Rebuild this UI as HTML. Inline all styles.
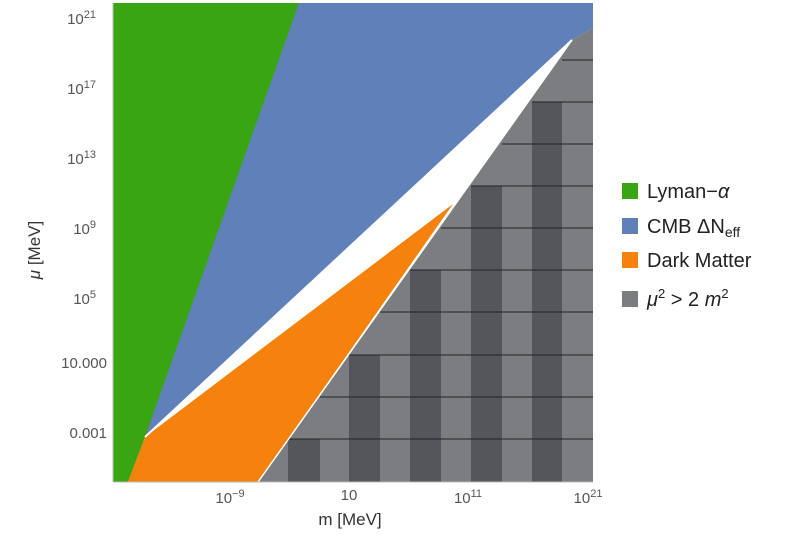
<!DOCTYPE html>
<html><head><meta charset="utf-8"><style>
body{margin:0;background:#fff;width:800px;height:530px;overflow:hidden}
svg text{font-family:"Liberation Sans",sans-serif;fill:#555}
</style></head><body>
<svg width="800" height="530" viewBox="0 0 800 530" xmlns="http://www.w3.org/2000/svg">
<defs><clipPath id="g"><polygon points="258,482 572,40 593,28 593,482"/></clipPath></defs>
<rect x="113" y="3" width="480" height="479" fill="#fff"/>
<polygon points="299,3 593,3 593,28 572,40 145,437 128,482 113,482 113,3" fill="#6080ba"/>
<polygon points="113,3 299,3 145,437 128,482 113,482" fill="#3aa512"/>
<polygon points="145,437 572,40 258,482" fill="#fff"/>
<g clip-path="url(#g)">
<rect x="257" y="3" width="336" height="479" fill="#7c7d81"/>
<g fill="#55565b">
<rect x="288" y="439" width="32" height="43"/>
<rect x="349" y="355" width="31" height="127"/>
<rect x="410" y="270" width="31" height="212"/>
<rect x="471" y="186" width="31" height="296"/>
<rect x="532" y="102" width="30" height="380"/>
</g>
<g stroke="#222" stroke-width="1" fill="none">
<path d="M288,439H593M320,397H593M349,355H593M380,312H593M410,270H593M441,228H593M471,186H593M502,144H593M532,102H593M562,60H593"/>
</g>
</g>
<polygon points="128,482 145,437 453,204 258,482" fill="#f5820d"/>
<line x1="145" y1="437" x2="572" y2="40" stroke="#fff" stroke-width="2"/>
<line x1="572" y1="40" x2="258" y2="482" stroke="#fff" stroke-width="1.5"/>
<line x1="113" y1="482" x2="593" y2="482" stroke="#bbb" stroke-width="1"/>
<line x1="113" y1="3" x2="113" y2="482" stroke="#bbb" stroke-width="1"/>
<g font-size="15" text-anchor="end">
<text x="96" y="24">10<tspan dy="-6" font-size="11">21</tspan></text>
<text x="96" y="94">10<tspan dy="-6" font-size="11">17</tspan></text>
<text x="96" y="164">10<tspan dy="-6" font-size="11">13</tspan></text>
<text x="96" y="234">10<tspan dy="-6" font-size="11">9</tspan></text>
<text x="96" y="304">10<tspan dy="-6" font-size="11">5</tspan></text>
<text x="107" y="368">10.000</text>
<text x="107" y="438">0.001</text>
</g>
<g font-size="15" text-anchor="middle">
<text x="230" y="503">10<tspan dy="-6" font-size="11">−9</tspan></text>
<text x="349" y="500">10</text>
<text x="468" y="503">10<tspan dy="-6" font-size="11">11</tspan></text>
<text x="588" y="503">10<tspan dy="-6" font-size="11">21</tspan></text>
</g>
<text x="350" y="525" font-size="17" text-anchor="middle" style="fill:#333">m [MeV]</text>
<text transform="translate(40,250) rotate(-90)" font-size="17" text-anchor="middle" style="fill:#333"><tspan font-style="italic">μ</tspan> [MeV]</text>
<rect x="622" y="183" width="16" height="16" fill="#3aa512"/>
<rect x="622" y="218" width="16" height="16" fill="#6080ba"/>
<rect x="622" y="252" width="16" height="16" fill="#f5820d"/>
<rect x="622" y="291" width="16" height="16" fill="#7c7d81"/>
<g font-size="20" style="fill:#222">
<text x="647" y="198" style="fill:#222">Lyman−<tspan font-style="italic">α</tspan></text>
<text x="647" y="233" style="fill:#222">CMB ΔN<tspan font-size="14" dy="4">eff</tspan></text>
<text x="647" y="267" style="fill:#222">Dark Matter</text>
<text x="647" y="306" style="fill:#222"><tspan font-style="italic">μ</tspan><tspan font-size="13" dy="-8">2</tspan><tspan dy="8"> &gt; 2 </tspan><tspan font-style="italic">m</tspan><tspan font-size="13" dy="-8">2</tspan></text>
</g>
</svg>
</body></html>
